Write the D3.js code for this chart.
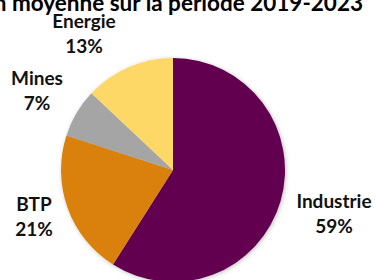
<!DOCTYPE html>
<html><head><meta charset="utf-8">
<script src="https://cdn.jsdelivr.net/npm/d3@7"></script>
<style>body{margin:0;background:#fff}svg{display:block}</style>
</head><body>
<script>
const categories = ["Industrie", "BTP", "Mines", "Energie"];
const values = [59, 21, 7, 13];
const labels = ["59%", "21%", "7%", "13%"];
const colors = ["#620150", "#DA8107", "#A5A5A5", "#FED866"];
const title = "Consommation moyenne sur la période 2019-2023";

const W = 376, H = 280;
const svg = d3.select("body").append("svg").attr("width", W).attr("height", H);
const defs = svg.append("defs");
const f = defs.append("filter").attr("id", "sh").attr("x", "-20%").attr("y", "-20%").attr("width", "140%").attr("height", "140%");
f.append("feDropShadow").attr("dx", 1).attr("dy", 1).attr("stdDeviation", 2).attr("flood-color", "#000").attr("flood-opacity", 0.25);

const cx = 173, cy = 170, r = 112;
const pie = d3.pie().sort(null).value(d => d);
const arc = d3.arc().innerRadius(0).outerRadius(r);
const g = svg.append("g").attr("transform", `translate(${cx},${cy})`).attr("filter", "url(#sh)");
g.selectAll("path").data(pie(values)).join("path")
  .attr("d", arc).attr("fill", (d, i) => colors[i]);

svg.append("text").attr("x", 363).attr("y", 11).attr("text-anchor", "end")
  .attr("font-family", "Lato, 'Open Sans', sans-serif").attr("font-weight", "bold")
  .attr("font-size", 22.5).attr("fill", "#000").text(title);

const labelPos = [[334, 208], [34, 211], [37, 85], [84, 28]];
const lg = svg.append("g").attr("font-family", "Lato, 'Open Sans', sans-serif")
  .attr("font-weight", "bold").attr("font-size", 19).attr("fill", "#111").attr("text-anchor", "middle");
categories.forEach((c, i) => {
  const t = lg.append("text").attr("x", labelPos[i][0]).attr("y", labelPos[i][1]);
  t.append("tspan").attr("x", labelPos[i][0]).text(c);
  t.append("tspan").attr("x", labelPos[i][0]).attr("dy", 25).text(labels[i]);
});
</script>
</body></html>
